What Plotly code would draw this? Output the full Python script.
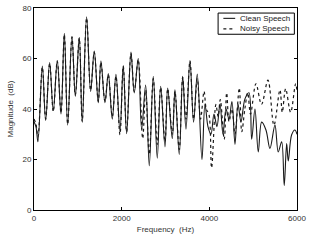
import plotly.graph_objects as go

# Clean speech: (frequency Hz, magnitude dB) read at peaks/troughs
clean_freq = [0, 45, 90, 190, 266, 357, 440, 531, 616, 692, 768, 866, 943, 1033, 1100, 1200,
              1292, 1375, 1466, 1527, 1619, 1695, 1786, 1870, 1961, 2036, 2113, 2212, 2287,
              2378, 2455, 2547, 2630, 2721, 2812, 2890, 2988, 3050, 3155, 3216, 3314, 3392,
              3467, 3558, 3641, 3725, 3832, 3900, 3969, 4037, 4106, 4174, 4243, 4311, 4380,
              4448, 4516, 4585, 4653, 4722, 4813, 4904, 4966, 5041, 5116, 5194, 5292, 5383,
              5497, 5572, 5650, 5709, 5764, 5801, 5878, 5953, 6000]
clean_db = [35, 33, 27, 57, 35.5, 58.4, 39.4, 59.2, 38, 70, 33.6, 68.8, 45, 68.4, 34.8, 76.5,
            47, 63, 42.5, 59, 42.5, 54, 36, 53.7, 31, 57.2, 30.2, 62.6, 46.4,
            60, 32, 49.5, 17.5, 53, 20.5, 49, 25, 48.3, 28.3, 47.6, 22, 53,
            32, 59.2, 34.8, 53.8, 20, 42, 33, 30, 38, 33, 42, 30, 40,
            36, 43, 26, 42, 35, 44, 46.4, 28, 40, 23, 34.8, 31.7, 24.4,
            33.6, 23, 27, 9.7, 26.3, 19.4, 29.8, 31.7, 30]

# Noisy speech
noisy_freq = [0, 45, 90, 190, 266, 357, 440, 531, 616, 692, 768, 866, 943, 1033, 1100, 1200,
              1292, 1375, 1466, 1527, 1619, 1695, 1786, 1870, 1961, 2036, 2113, 2212, 2287,
              2378, 2480, 2547, 2630, 2721, 2812, 2890, 2988, 3050, 3155, 3216, 3314, 3392,
              3467, 3558, 3641, 3725, 3800, 3880, 3930, 3990, 4051, 4150, 4200, 4250, 4340,
              4395, 4450, 4516, 4585, 4683, 4740, 4810, 4876, 4940, 5064, 5190, 5338, 5474,
              5611, 5664, 5741, 5855, 5969, 6000]
noisy_db = [36, 34, 29, 56.5, 36, 58, 39, 59, 38.5, 69.5, 34, 68.5, 45.5, 68, 35, 76,
            47.5, 62.5, 43, 58.5, 43, 53.5, 37, 53, 29.8, 57, 31, 62, 47,
            59.5, 28.3, 47.5, 22, 52, 26, 48.5, 27, 48, 30, 47, 24, 52.5,
            36, 59, 36, 52, 36, 47, 40, 38, 16.7, 41.8, 37, 43.7, 28,
            46.4, 35, 40, 30, 48.3, 31, 40, 46.4, 38, 50, 41.8, 51.4, 33.6,
            47.6, 38.7, 48, 38.7, 50, 47]

series_names = ["Clean Speech", "Noisy Speech"]
x_ticks = [0, 2000, 4000, 6000]
y_ticks = [0, 20, 40, 60, 80]

FONT = "Liberation Sans, Arial, sans-serif"

fig = go.Figure()
fig.add_trace(go.Scatter(x=clean_freq, y=clean_db, mode="lines", name=series_names[0],
                         line=dict(color="#1a1a1a", width=1.1, shape="spline", smoothing=1.0),
                         showlegend=False))
fig.add_trace(go.Scatter(x=noisy_freq, y=noisy_db, mode="lines", name=series_names[1],
                         line=dict(color="#1a1a1a", width=1.2, dash="dot", shape="spline", smoothing=1.0),
                         showlegend=False))

# manual legend (paper coords)
lx0, lx1, ly0, ly1 = 0.70, 0.99, 0.87, 0.975
fig.add_shape(type="rect", xref="paper", yref="paper", x0=lx0, x1=lx1, y0=ly0, y1=ly1,
              line=dict(color="black", width=1), fillcolor="white", layer="above")
for i, (nm, dash, w) in enumerate(zip(series_names, ["solid", "dot"], [1.1, 1.2])):
    yy = ly1 - (i + 0.5) * (ly1 - ly0) / 2
    fig.add_shape(type="line", xref="paper", yref="paper", x0=lx0 + 0.02, x1=lx0 + 0.065,
                  y0=yy, y1=yy, line=dict(color="#1a1a1a", width=w, dash=dash), layer="above")
    fig.add_annotation(xref="paper", yref="paper", x=lx0 + 0.075, y=yy, text=nm,
                       showarrow=False, xanchor="left", yanchor="middle",
                       font=dict(family=FONT, size=8, color="#222"))

axis_common = dict(showline=True, linecolor="black", linewidth=1, mirror="ticks",
                   ticks="inside", ticklen=3, tickcolor="black", showgrid=False, zeroline=False,
                   ticklabeloverflow="allow",
                   tickfont=dict(family=FONT, size=8, color="#333"))

fig.update_layout(
    width=313, height=251,
    margin=dict(l=34, r=16, t=4, b=41),
    paper_bgcolor="white", plot_bgcolor="white",
    xaxis=dict(range=[0, 6000], tickvals=x_ticks, ticktext=[str(v) for v in x_ticks],
               title=dict(text="Frequency  (Hz)", font=dict(family=FONT, size=8, color="#333"),
                          standoff=4), **axis_common),
    yaxis=dict(range=[0, 80], tickvals=y_ticks, ticktext=[str(v) for v in y_ticks],
               title=dict(text="Magnitude  (dB)", font=dict(family=FONT, size=8, color="#333"),
                          standoff=7), **axis_common),
)

fig.write_html("out.html")
